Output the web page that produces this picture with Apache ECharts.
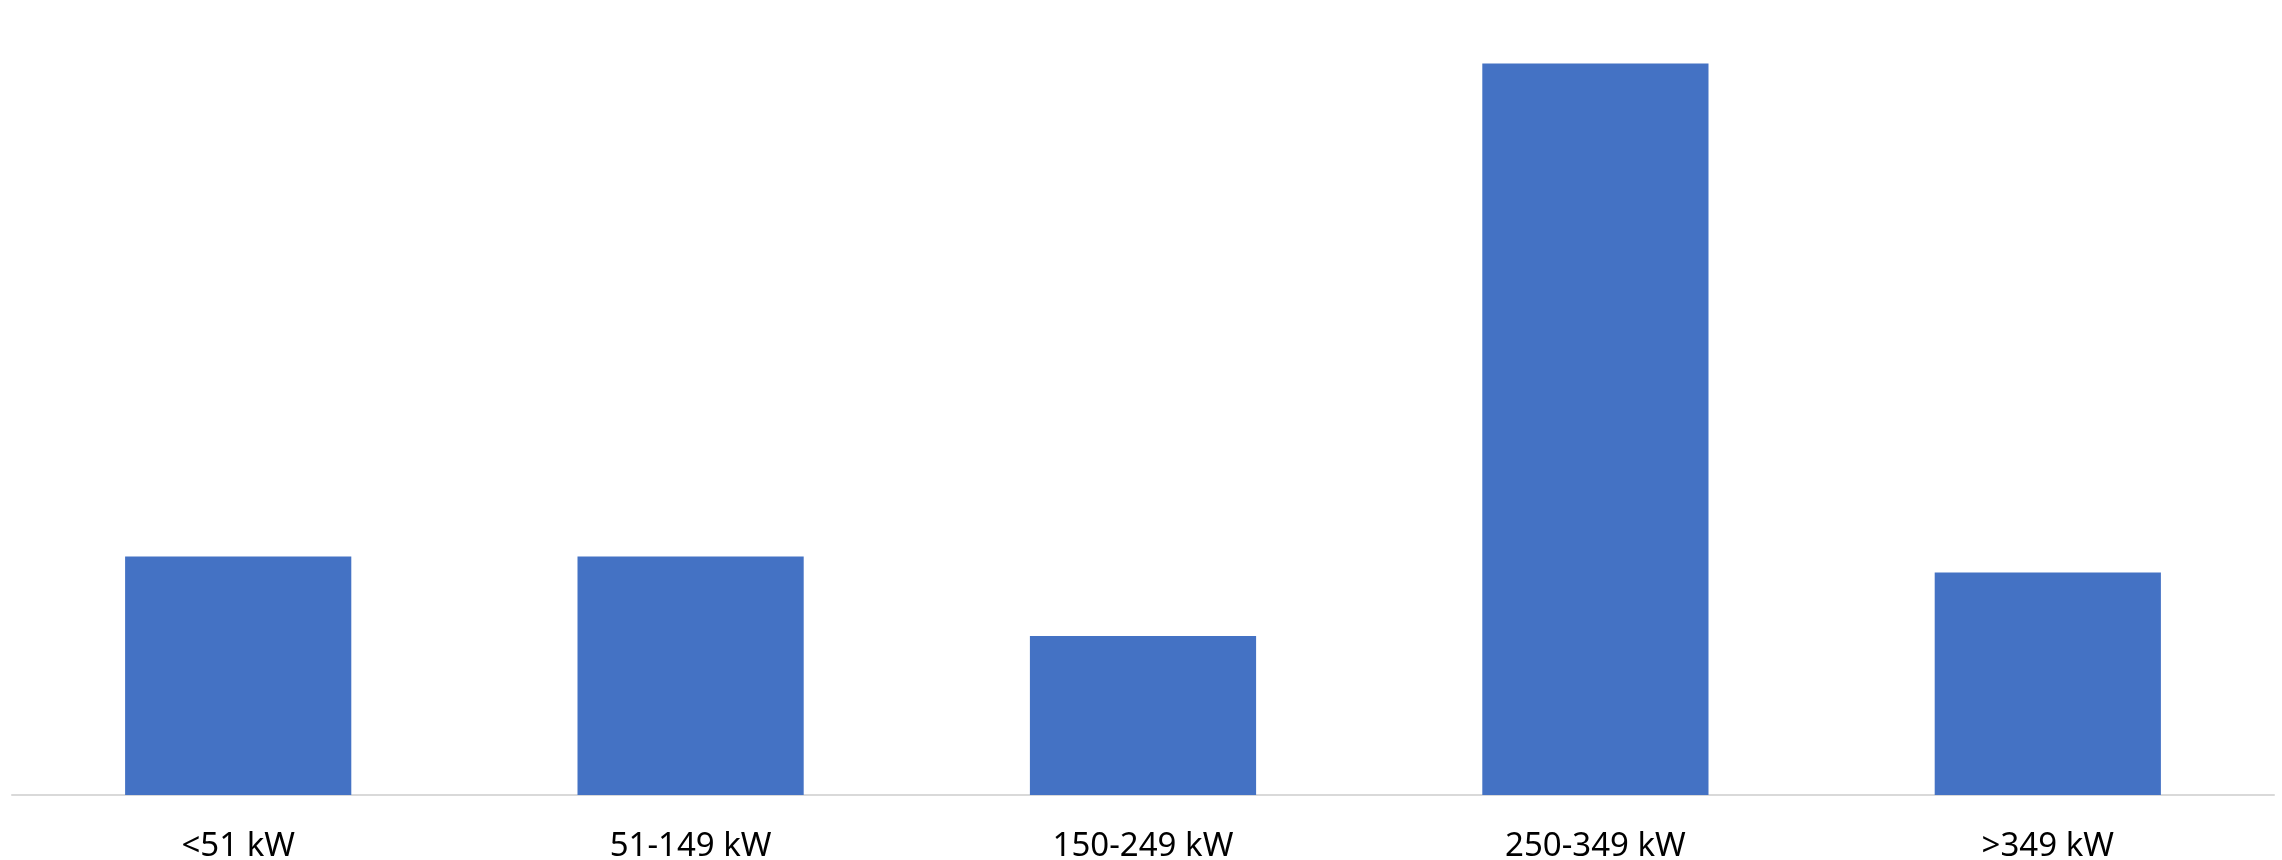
<!DOCTYPE html>
<html>
<head>
<meta charset="utf-8">
<script src="https://cdn.jsdelivr.net/npm/echarts@6/dist/echarts.min.js"></script>
<style>
  html, body { margin: 0; padding: 0; background: #fff; }
  #chart { width: 2282px; height: 860px; }
</style>
</head>
<body>
<div id="chart"></div>
<script>
// power classes and share of each
var categories = ['<51 kW', '51-149 kW', '150-249 kW', '250-349 kW', '>349 kW'];
var shares = [15, 15, 10, 46, 14];
var yMax = 50;

var myChart = echarts.init(document.getElementById('chart'));

var options = {
    animation: false,
    grid: {
        left: 12,
        right: 8,
        top: 0,
        bottom: 65,
        containLabel: false,
        outerBoundsMode: 'none'
    },
    xAxis: {
        type: 'category',
        data: categories,
        axisLine: {
            show: true,
            lineStyle: { color: '#d9d9d9', width: 2 }
        },
        axisTick: { show: false },
        axisLabel: {
            margin: 35,
            fontFamily: 'Noto Sans',
            fontSize: 33,
            color: '#000'
        }
    },
    yAxis: {
        type: 'value',
        min: 0,
        max: yMax,
        show: false,
        splitLine: { show: false }
    },
    series: [{
        type: 'bar',
        data: shares,
        barWidth: '50%',
        itemStyle: { color: '#4472c4' }
    }]
};
myChart.setOption(options, true);
</script>
</body>
</html>
